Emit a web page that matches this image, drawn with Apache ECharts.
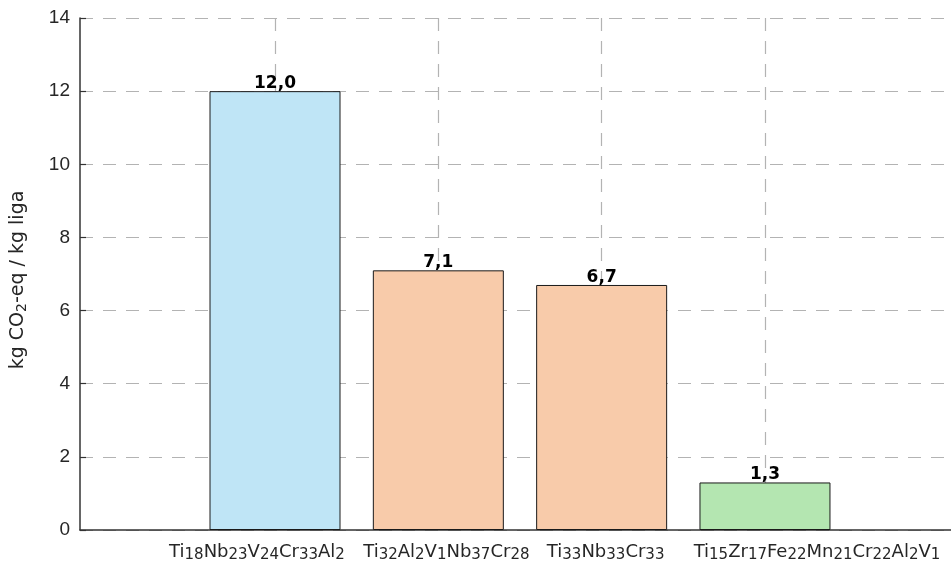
<!DOCTYPE html>
<html>
<head>
<meta charset="utf-8">
<script src="https://cdn.jsdelivr.net/npm/echarts@6/dist/echarts.min.js"></script>
<style>
  html, body { margin: 0; padding: 0; background: #fff; }
  #chart { width: 951px; height: 565px; }
</style>
</head>
<body>
<div id="chart"></div>
<script>
// Alloy compositions (digits are rendered as subscripts)
const alloys = ['Ti18Nb23V24Cr33Al2', 'Ti32Al2V1Nb37Cr28', 'Ti33Nb33Cr33', 'Ti15Zr17Fe22Mn21Cr22Al2V1'];
// Carbon footprint, kg CO2-eq per kg of alloy
const footprint = [12.0, 7.1, 6.7, 1.3];
// Positions of the alloys along the x axis
const slots = [1, 2, 3, 4];
// Y axis range and step
const yMin = 0, yMax = 14, yStep = 2;

const barColors = ['#bfe5f6', '#f8cbaa', '#f8cbaa', '#b4e6b1'];
// horizontal nudges of the category labels (px, + is right)
const labelShift = [-18, 8, 4, 52];

const txt = '#262626';
const gridColor = '#b3b3b3';

const rich = {
  m: { fontFamily: 'DejaVu Sans', fontSize: 18, color: txt, lineHeight: 22 },
  s: { fontFamily: 'DejaVu Sans', fontSize: 15, color: txt, lineHeight: 22, padding: [6, 0, 0, 0] }
};
labelShift.forEach((d, i) => {
  rich['g' + i] = { fontSize: 10, lineHeight: 22, width: Math.abs(d) * 2 };
});

function formula(str) {
  return str.replace(/([A-Za-z]+)|(\d+)/g, (all, letters, digits) =>
    letters ? '{m|' + letters + '}' : '{s|' + digits + '}');
}

// label slots include the two empty ends of the axis
const labelSlots = [0].concat(slots, [slots.length + 1]);

function categoryLabel(v) {
  const i = Math.round(v) - 1;
  if (i < 0 || i >= alloys.length) return ' ';
  const body = formula(alloys[i]);
  const gap = '{g' + i + '| }';
  return labelShift[i] < 0 ? body + gap : gap + body;
}

const chart = echarts.init(document.getElementById('chart'), null, { renderer: 'canvas' });

chart.setOption({
  animation: false,
  backgroundColor: '#ffffff',
  grid: { left: 80, right: 0, top: 18, bottom: 35, containLabel: false, outerBoundsMode: 'none' },
  xAxis: {
    type: 'value',
    min: -0.194,
    max: 5.139,
    axisLine: { show: true, onZero: false, lineStyle: { color: '#333', width: 1.5 } },
    axisTick: { show: true, inside: true, length: 6, customValues: slots, lineStyle: { color: '#333', width: 1.2 } },
    axisLabel: {
      show: true, customValues: labelSlots, margin: 11, formatter: categoryLabel, rich: rich,
      hideOverlap: false
    },
    splitLine: { show: true, lineStyle: { color: gridColor, width: 1.2, type: [13, 10] } }
  },
  yAxis: {
    type: 'value',
    min: yMin, max: yMax, interval: yStep,
    name: '{m|kg CO}{s|2}{m|-eq / kg liga}',
    nameLocation: 'middle',
    nameGap: 50,
    nameRotate: 90,
    nameTextStyle: {
      padding: [0, 12, 0, 0],
      rich: {
        m: { fontFamily: 'DejaVu Sans', fontSize: 19, color: txt, lineHeight: 23 },
        s: { fontFamily: 'DejaVu Sans', fontSize: 14, color: txt, lineHeight: 23, padding: [8, 0, 0, 0] }
      }
    },
    axisLine: { show: true, onZero: false, lineStyle: { color: '#333', width: 1.5 } },
    axisTick: { show: true, inside: true, length: 6, lineStyle: { color: '#333', width: 1.2 } },
    axisLabel: { fontFamily: 'Liberation Sans', fontSize: 19, color: txt, margin: 10 },
    splitLine: { show: true, lineStyle: { color: gridColor, width: 1.2, type: [13, 10] } }
  },
  series: [{
    type: 'bar',
    barWidth: 131,
    data: footprint.map((v, i) => ({
      value: [slots[i], v],
      itemStyle: { color: barColors[i], borderColor: '#1a1a1a', borderWidth: 1 }
    })),
    label: {
      show: true,
      position: 'top',
      distance: -1,
      fontFamily: 'DejaVu Sans',
      fontWeight: 'bold',
      fontSize: 17,
      color: '#000',
      formatter: p => p.value[1].toFixed(1).replace('.', ',')
    }
  }]
});
</script>
</body>
</html>
